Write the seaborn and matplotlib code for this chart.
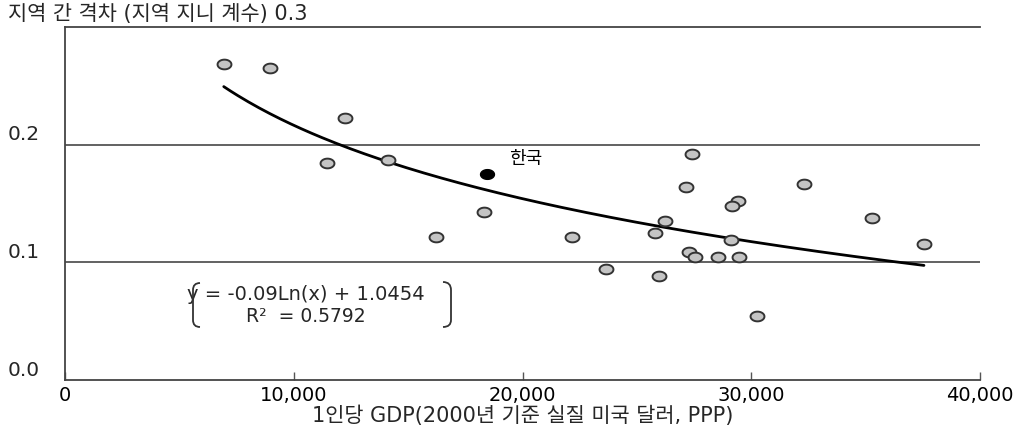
import numpy as np
import matplotlib
matplotlib.use("Agg")
import matplotlib.pyplot as plt
import matplotlib.transforms as mtransforms
from matplotlib.path import Path
from matplotlib.patches import PathPatch
import seaborn as sns

# ---- data ----
gdp = [6940, 8950, 12230, 11440, 14100, 16200, 18300, 22180, 23640, 25950,
       25780, 26240, 27160, 27410, 27260, 27550, 28540, 29130, 29450, 29440,
       29170, 30230, 32300, 35270, 37550]
gini = [0.2685, 0.2650, 0.2226, 0.1844, 0.1870, 0.1215, 0.1427, 0.1215, 0.0941, 0.0886,
        0.1249, 0.1348, 0.1637, 0.1918, 0.1087, 0.1048, 0.1048, 0.1187, 0.1048, 0.1519,
        0.1478, 0.0544, 0.1668, 0.1376, 0.1155]
korea_gdp = [18430]
korea_gini = [0.175]
korea_label = "한국"

fit_slope = -0.09
fit_intercept = 1.0454
fit_r2 = 0.5792

xtick_vals = [0, 10000, 20000, 30000, 40000]
xtick_labels = ["0", "10,000", "20,000", "30,000", "40,000"]
ytick_vals = [0.0, 0.1, 0.2, 0.3]
ytick_labels = ["0.0", "0.1", "0.2", "지역 간 격차 (지역 지니 계수) 0.3"]
xlabel = "1인당 GDP(2000년 기준 실질 미국 달러, PPP)"

# ---- style ----
sns.set_theme(style="white")
plt.rcParams["font.family"] = ["DejaVu Sans", "Noto Sans CJK KR"]

W, H, DPI = 1021, 432, 100
fig = plt.figure(figsize=(W / DPI, H / DPI), dpi=DPI)
ax = fig.add_axes([65 / W, 1 - 380 / H, 915 / W, 353 / H])

# ellipse marker (reference markers are wider than tall)
t = np.linspace(0, 2 * np.pi, 73)
ell = Path(np.column_stack([np.cos(t), 0.7 * np.sin(t)]), closed=True)

sns.scatterplot(x=gdp, y=gini, ax=ax, marker=ell, s=100, color="#c4c4c4",
                edgecolor="#333333", linewidth=1.4, zorder=4)
sns.scatterplot(x=korea_gdp, y=korea_gini, ax=ax, marker=ell, s=100, color="black",
                edgecolor="black", linewidth=1.0, zorder=5)

# logarithmic trend line given by the chart's equation
xs = np.linspace(min(gdp), max(gdp), 200)
ys = fit_slope * np.log(xs) + fit_intercept
sns.lineplot(x=xs, y=ys, ax=ax, color="black", linewidth=2.0, zorder=3)

ax.annotate(korea_label, xy=(korea_gdp[0], korea_gini[0]), xytext=(16, 11),
            textcoords="offset points", ha="left", va="center", fontsize=13,
            color="black")

ax.set_xlim(0, 40000)
ax.set_ylim(0, 0.3)
ax.set_xticks(xtick_vals)
ax.set_xticklabels(xtick_labels, fontsize=14)
ax.set_yticks(ytick_vals)
ax.set_yticklabels(ytick_labels, fontsize=14.5)
ax.set_xlabel(xlabel, fontsize=15, labelpad=1)
ax.set_ylabel("")

ax.tick_params(axis="x", direction="in", length=6, width=1.0, color="#555555",
               pad=4, labelcolor="black", bottom=True)
ax.tick_params(axis="y", length=0, pad=41)
offset = mtransforms.ScaledTranslation(0, 0.12, fig.dpi_scale_trans)
for lab in ax.get_yticklabels():
    lab.set_horizontalalignment("left")
    lab.set_transform(lab.get_transform() + offset)
top_lab = ax.get_yticklabels()[-1]
top_lab.set_fontsize(15)
top_lab.set_transform(top_lab.get_transform()
                      + mtransforms.ScaledTranslation(0, 0.03, fig.dpi_scale_trans))

ax.grid(False)
for yv in [0.1, 0.2]:
    ax.axhline(yv, color="#555555", linewidth=1.3, zorder=1)

for side in ["left", "bottom", "top"]:
    ax.spines[side].set_visible(True)
    ax.spines[side].set_color("#444444")
    ax.spines[side].set_linewidth(1.3)
ax.spines["right"].set_visible(False)

# equation box with bracket shapes
def fx(px):
    return (px - 65) / 915

def fy(py):
    return (380 - py) / 353

left_br = Path([(fx(200), fy(283)), (fx(193), fy(283)), (fx(193), fy(290)),
                (fx(193), fy(320)),
                (fx(193), fy(327)), (fx(200), fy(327))],
               [Path.MOVETO, Path.CURVE3, Path.CURVE3, Path.LINETO,
                Path.CURVE3, Path.CURVE3])
right_br = Path([(fx(443), fy(282)), (fx(451), fy(282)), (fx(451), fy(290)),
                 (fx(451), fy(320)),
                 (fx(451), fy(327)), (fx(443), fy(327))],
                [Path.MOVETO, Path.CURVE3, Path.CURVE3, Path.LINETO,
                 Path.CURVE3, Path.CURVE3])
for p in (left_br, right_br):
    ax.add_patch(PathPatch(p, transform=ax.transAxes, fill=False,
                           edgecolor="#333333", linewidth=1.3, zorder=6))

ax.text(fx(306), fy(295), f"y = {fit_slope:.2f}Ln(x) + {fit_intercept:.4f}",
        transform=ax.transAxes, ha="center", va="center", fontsize=14)
ax.text(fx(306), fy(316), f"R\u00b2  = {fit_r2:.4f}",
        transform=ax.transAxes, ha="center", va="center", fontsize=13.5)

fig.savefig("out.png", dpi=DPI, facecolor="white")
